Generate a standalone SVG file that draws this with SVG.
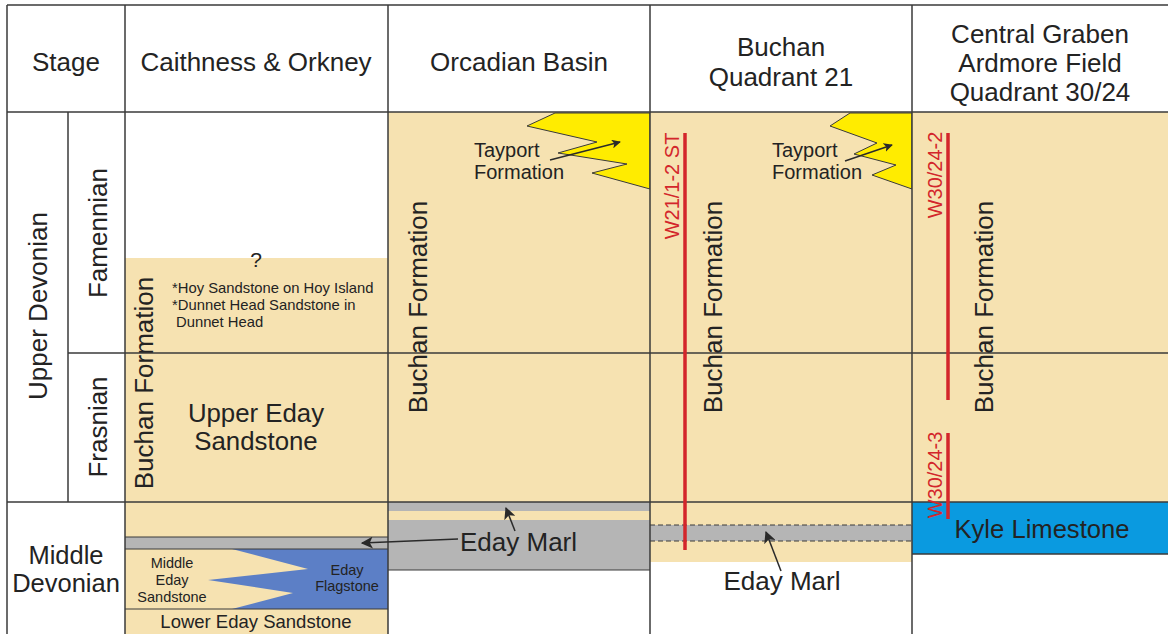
<svg xmlns="http://www.w3.org/2000/svg" width="1168" height="634" viewBox="0 0 1168 634">
  <style>
    .txt { font-family: "Liberation Sans", Arial, sans-serif; fill: #232323; }
    .red { font-family: "Liberation Sans", Arial, sans-serif; fill: #d3262b; }
    .grid { stroke: #3a3a3a; stroke-width: 1.5; fill: none; }
    .thin { stroke: #3a3a3a; stroke-width: 1; fill: none; }
    .well { stroke: #d3262b; stroke-width: 3.5; fill: none; }
    .beige { fill: #f6e2b1; }
    .grey { fill: #b5b5b5; }
    .sand-wedge { fill: #ffec00; stroke: #3a3a3a; stroke-width: 1; }
    .lead { stroke: #2a2a2a; stroke-width: 1.5; fill: none; }
    .head { font-size: 26px; }
    .fm { font-size: 26px; }
  </style>
  <defs>
    <marker id="arrow" viewBox="0 0 10 10" refX="9" refY="5" markerWidth="9" markerHeight="9" markerUnits="userSpaceOnUse" orient="auto">
      <path d="M0,0 L10,5 L0,10 L2.5,5 z" fill="#2a2a2a"/>
    </marker>
    <marker id="arrowL" viewBox="0 0 10 10" refX="9" refY="5" markerWidth="12" markerHeight="12" markerUnits="userSpaceOnUse" orient="auto">
      <path d="M0,0 L10,5 L0,10 L2.5,5 z" fill="#2a2a2a"/>
    </marker>
  </defs>

  <rect x="0" y="0" width="1168" height="634" fill="#ffffff"/>

  <!-- Caithness & Orkney column -->
  <g id="caithness">
    <rect class="beige" x="125" y="258" width="263" height="376"/>
    <rect class="grey" x="125" y="537" width="263" height="12"/>
    <polygon fill="#5c7fc6" points="232,549 388,549 388,609 232,609 293,593 208,580 308,569"/>
    <line class="thin" x1="125" y1="537" x2="388" y2="537"/>
    <line class="thin" x1="125" y1="549" x2="388" y2="549"/>
    <line class="thin" x1="125" y1="609" x2="388" y2="609"/>
    <text class="txt" x="256" y="267" font-size="21" text-anchor="middle">?</text>
    <text class="txt" x="172" y="293" font-size="14.8">*Hoy Sandstone on Hoy Island</text>
    <text class="txt" x="172" y="310" font-size="14.8">*Dunnet Head Sandstone in</text>
    <text class="txt" x="176" y="327" font-size="14.8">Dunnet Head</text>
    <text class="txt" x="256" y="422" font-size="25.8" text-anchor="middle">Upper Eday</text>
    <text class="txt" x="256" y="450" font-size="25.8" text-anchor="middle">Sandstone</text>
    <text class="txt fm" text-anchor="middle" transform="translate(153,383) rotate(-90)">Buchan Formation</text>
    <text class="txt" x="172" y="568" font-size="14.5" text-anchor="middle">Middle</text>
    <text class="txt" x="172" y="585" font-size="14.5" text-anchor="middle">Eday</text>
    <text class="txt" x="172" y="602" font-size="14.5" text-anchor="middle">Sandstone</text>
    <text class="txt" x="347" y="575" font-size="14.5" text-anchor="middle">Eday</text>
    <text class="txt" x="347" y="591" font-size="14.5" text-anchor="middle">Flagstone</text>
    <text class="txt" x="256" y="628" font-size="18.5" text-anchor="middle">Lower Eday Sandstone</text>
  </g>

  <!-- Orcadian Basin column -->
  <g id="orcadian">
    <rect class="beige" x="388" y="112" width="262" height="390"/>
    <polygon class="sand-wedge" points="555,113 650,113 650,189 592,173 627,164 558,153 597,142 527,126"/>
    <rect class="grey" x="388" y="502" width="262" height="9"/>
    <rect class="beige" x="388" y="511" width="262" height="9"/>
    <rect class="grey" x="388" y="520" width="262" height="50"/>
    <line class="thin" x1="388" y1="570" x2="650" y2="570"/>
    <text class="txt" x="474" y="157" font-size="20">Tayport</text>
    <text class="txt" x="474" y="179" font-size="20">Formation</text>
    <text class="txt fm" text-anchor="middle" transform="translate(427,307) rotate(-90)">Buchan Formation</text>
    <text class="txt" x="460" y="551" font-size="26">Eday Marl</text>
  </g>

  <!-- Buchan Quadrant 21 column -->
  <g id="buchan-q21">
    <rect class="beige" x="650" y="112" width="262" height="450"/>
    <polygon class="sand-wedge" points="850,113 912,113 912,189 872,175 896,165 854,154 877,143 830,126"/>
    <rect class="grey" x="650" y="525" width="262" height="16"/>
    <line x1="650" y1="525" x2="912" y2="525" stroke="#3a3a3a" stroke-width="1" stroke-dasharray="5,3"/>
    <line x1="650" y1="541" x2="912" y2="541" stroke="#3a3a3a" stroke-width="1" stroke-dasharray="5,3"/>
    <text class="txt" x="772" y="157" font-size="20">Tayport</text>
    <text class="txt" x="772" y="179" font-size="20">Formation</text>
    <text class="txt fm" text-anchor="middle" transform="translate(722,307) rotate(-90)">Buchan Formation</text>
    <text class="txt" x="782" y="590" font-size="26" text-anchor="middle">Eday Marl</text>
  </g>

  <!-- Central Graben, Ardmore Field column -->
  <g id="central-graben">
    <rect class="beige" x="912" y="112" width="256" height="390"/>
    <rect fill="#0a9ae0" x="912" y="502" width="256" height="52"/>
    <line class="grid" x1="912" y1="554" x2="1168" y2="554"/>
    <text class="txt fm" text-anchor="middle" transform="translate(993,307) rotate(-90)">Buchan Formation</text>
    <text class="txt" x="1042" y="538" font-size="25.6" text-anchor="middle">Kyle Limestone</text>
  </g>

  <!-- Table grid -->
  <g id="grid">
    <line class="grid" x1="7" y1="5" x2="1168" y2="5"/>
    <line class="grid" x1="7" y1="112" x2="1168" y2="112"/>
    <line class="grid" x1="68" y1="353" x2="1168" y2="353"/>
    <line class="grid" x1="7" y1="502" x2="1168" y2="502"/>
    <line class="grid" x1="7" y1="5" x2="7" y2="634"/>
    <line class="grid" x1="68" y1="112" x2="68" y2="502"/>
    <line class="grid" x1="125" y1="5" x2="125" y2="634"/>
    <line class="grid" x1="388" y1="5" x2="388" y2="634"/>
    <line class="grid" x1="650" y1="5" x2="650" y2="634"/>
    <line class="grid" x1="912" y1="5" x2="912" y2="634"/>
  </g>

  <!-- Header row -->
  <g id="header">
    <text class="txt head" x="66" y="71" text-anchor="middle">Stage</text>
    <text class="txt head" x="256" y="71" text-anchor="middle">Caithness &amp; Orkney</text>
    <text class="txt head" x="519" y="71" text-anchor="middle">Orcadian Basin</text>
    <text class="txt head" x="781" y="56" text-anchor="middle">Buchan</text>
    <text class="txt head" x="781" y="86" text-anchor="middle">Quadrant 21</text>
    <text class="txt head" x="1040" y="43" text-anchor="middle">Central Graben</text>
    <text class="txt head" x="1040" y="72" text-anchor="middle">Ardmore Field</text>
    <text class="txt head" x="1040" y="101" text-anchor="middle">Quadrant 30/24</text>
  </g>

  <!-- Stage column labels -->
  <g id="stages">
    <text class="txt" font-size="26" text-anchor="middle" transform="translate(47,306) rotate(-90)">Upper Devonian</text>
    <text class="txt" font-size="26" text-anchor="middle" transform="translate(107,233) rotate(-90)">Famennian</text>
    <text class="txt" font-size="26" text-anchor="middle" transform="translate(107,427) rotate(-90)">Frasnian</text>
    <text class="txt" x="66" y="564" font-size="25.5" text-anchor="middle">Middle</text>
    <text class="txt" x="66" y="592" font-size="25.5" text-anchor="middle">Devonian</text>
  </g>

  <!-- Well tracks -->
  <g id="wells">
    <line class="well" x1="685" y1="133" x2="685" y2="550"/>
    <text class="red" font-size="20" text-anchor="middle" transform="translate(679,186) rotate(-90)">W21/1-2 ST</text>
    <line class="well" x1="948" y1="133" x2="948" y2="400"/>
    <text class="red" font-size="20" text-anchor="middle" transform="translate(942,175) rotate(-90)">W30/24-2</text>
    <line class="well" x1="948" y1="433" x2="948" y2="519"/>
    <text class="red" font-size="20" text-anchor="middle" transform="translate(942,475) rotate(-90)">W30/24-3</text>
  </g>

  <!-- Leader arrows -->
  <g id="connectors">
    <line class="lead" x1="550" y1="160" x2="620" y2="142" marker-end="url(#arrow)"/>
    <line class="lead" x1="845" y1="161" x2="892" y2="145" marker-end="url(#arrow)"/>
    <line class="lead" x1="458" y1="539" x2="362" y2="543" marker-end="url(#arrowL)"/>
    <line class="lead" x1="515" y1="531" x2="506" y2="508" marker-end="url(#arrowL)"/>
    <line class="lead" x1="781" y1="571" x2="766" y2="532" marker-end="url(#arrowL)"/>
  </g>
</svg>
